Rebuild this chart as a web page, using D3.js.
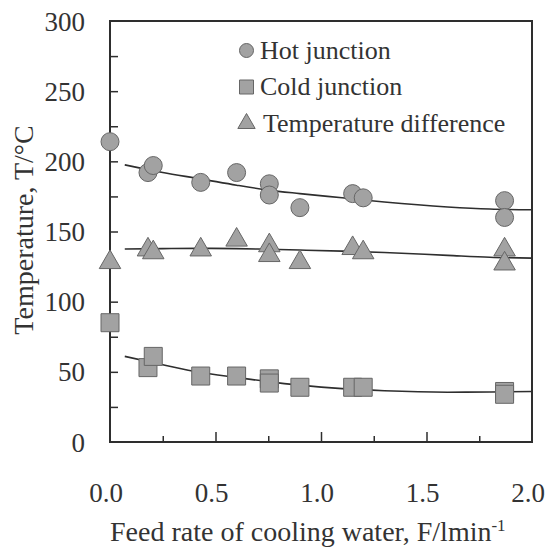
<!DOCTYPE html>
<html>
<head>
<meta charset="utf-8">
<script src="https://cdn.jsdelivr.net/npm/d3@7"></script>
<style>
  body { margin: 0; background: #fff; }
  svg { display: block; font-family: "Liberation Serif", "Times New Roman", serif; }
</style>
</head>
<body>
<svg id="chart" width="547" height="555"></svg>
<script>
// measured points
const feedRate = [0, 0.18, 0.205, 0.43, 0.60, 0.755, 0.755, 0.90, 1.15, 1.20, 1.87, 1.87]
const hotJunction = [214, 192, 197, 185, 192, 184, 176, 167, 177, 174, 172, 160]
const coldJunction = [85, 53, 61, 47, 47, 45, 42, 39, 39, 39, 36, 34]
const tempDifference = [128, 137, 135, 137, 144, 140, 133, 128, 138, 135, 137, 127]

// fitted curves
const fitFeed = [0.07, 0.25, 0.43, 0.6, 0.75, 0.9, 1.1, 1.3, 1.6, 1.8, 2.0]
const hotFit = [197.5, 192, 187.5, 183, 179.5, 177, 174, 171, 167.5, 166, 165.5]
const coldFit = [61, 55, 49.5, 46, 43, 40.5, 38, 36.5, 35.5, 35.6, 36]
const diffFit = [137.5, 137.8, 138, 137.8, 137.3, 136.8, 136, 135, 133, 131.7, 131]

const xTicks = [0, 0.5, 1.0, 1.5, 2.0]
const yTicks = [0, 50, 100, 150, 200, 250, 300]
const legendLabels = ["Hot junction", "Cold junction", "Temperature difference"]

const margin = { top: 21, right: 15, bottom: 113, left: 110 }
const width = 547, height = 555
const ink = "#2e2e2e", markFill = "#a2a2a2", markStroke = "#666"

const svg = d3.select("#chart")

// scales
const x = d3.scaleLinear().domain([0, 2]).range([margin.left, width - margin.right])
const y = d3.scaleLinear().domain([0, 300]).range([height - margin.bottom, margin.top])

// frame
svg.append("rect")
  .attr("x", x(0)).attr("y", y(300))
  .attr("width", x(2) - x(0)).attr("height", y(0) - y(300))
  .attr("fill", "none").attr("stroke", ink).attr("stroke-width", 2)

// inward ticks, major + minor
function xAxis(g) {
  g.attr("transform", `translate(0,${y(0)})`)
    .call(d3.axisBottom(x).tickValues(d3.range(0.25, 2, 0.25)).tickSizeInner(-6).tickSizeOuter(0).tickFormat(""))
    .call(g => g.select(".domain").remove())
    .call(g => g.selectAll(".tick line").attr("stroke", ink).attr("stroke-width", 1.5)
      .attr("y2", d => Math.abs(d % 0.5) < 1e-9 ? -10 : -6))
}
svg.append("g").call(xAxis)

function yAxis(g) {
  g.attr("transform", `translate(${x(0)},0)`)
    .call(d3.axisLeft(y).tickValues(d3.range(25, 300, 25)).tickSizeInner(-8).tickSizeOuter(0).tickFormat(""))
    .call(g => g.select(".domain").remove())
    .call(g => g.selectAll(".tick line").attr("stroke", ink).attr("stroke-width", 1.5))
}
svg.append("g").call(yAxis)

// tick labels
svg.append("g").selectAll("text").data(yTicks).join("text")
  .attr("x", 85).attr("y", d => y(d) + 9.5)
  .attr("text-anchor", "end").attr("font-size", 27).attr("fill", "#333")
  .text(d => d)

svg.append("g").selectAll("text").data(xTicks).join("text")
  .attr("x", d => x(d) - 4).attr("y", 502)
  .attr("text-anchor", "middle").attr("font-size", 27).attr("fill", "#333")
  .text(d => d.toFixed(1))

// axis titles
svg.append("text")
  .attr("transform", "translate(33,230) rotate(-90)")
  .attr("text-anchor", "middle").attr("font-size", 28).attr("fill", "#333")
  .text("Temperature, T/°C")

const xt = svg.append("text")
  .attr("x", 110).attr("y", 541)
  .attr("font-size", 28).attr("fill", "#333")
xt.append("tspan").text("Feed rate of cooling water, F/lmin")
xt.append("tspan").attr("font-size", 17).attr("dy", -10).text("-1")

// fitted lines
const line = d3.line().x(d => x(d[0])).y(d => y(d[1])).curve(d3.curveMonotoneX)
;[hotFit, coldFit, diffFit].forEach(fit => {
  svg.append("path")
    .datum(fitFeed.map((f, i) => [f, fit[i]]))
    .attr("d", line)
    .attr("fill", "none").attr("stroke", ink).attr("stroke-width", 1.6)
})

// markers
const sym = {
  circle: d3.symbol().type(d3.symbolCircle).size(Math.PI * 9 * 9),
  square: d3.symbol().type(d3.symbolSquare).size(18 * 18),
  triangle: d3.symbol().type(d3.symbolTriangle).size(200)
}

function drawSeries(vals, shape) {
  svg.append("g").selectAll("path").data(vals).join("path")
    .attr("transform", (d, i) => `translate(${x(feedRate[i])},${y(d)})`)
    .attr("d", sym[shape]())
    .attr("fill", markFill).attr("stroke", markStroke).attr("stroke-width", 1)
}
drawSeries(tempDifference, "triangle")
drawSeries(coldJunction, "square")
drawSeries(hotJunction, "circle")

// legend
const legendShapes = [
  d3.symbol().type(d3.symbolCircle).size(Math.PI * 7 * 7),
  d3.symbol().type(d3.symbolSquare).size(14 * 14),
  d3.symbol().type(d3.symbolTriangle).size(130)
]
const legend = svg.append("g")
legendLabels.forEach((lab, i) => {
  const base = 58.5 + i * 36.5
  legend.append("path")
    .attr("transform", `translate(246.5,${base - 8})`)
    .attr("d", legendShapes[i]())
    .attr("fill", markFill).attr("stroke", markStroke).attr("stroke-width", 1)
  legend.append("text")
    .attr("x", i == 2 ? 263 : 260).attr("y", base)
    .attr("font-size", 26).attr("fill", "#333")
    .text(lab)
})
</script>
</body>
</html>
